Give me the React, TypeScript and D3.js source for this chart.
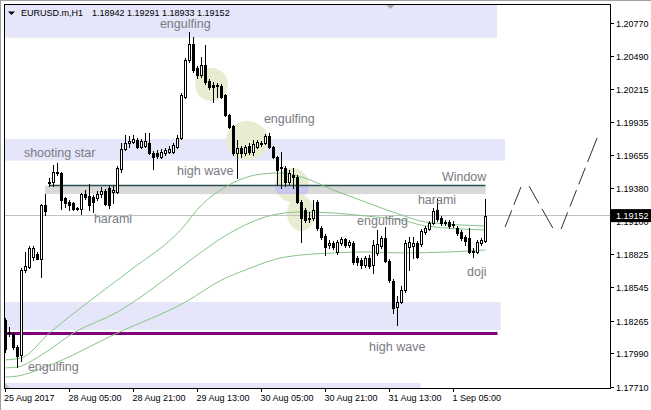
import React from "react";
import * as d3 from "d3";

// EURUSD.m H1, bars from 25 Aug 13:00 to 1 Sep 13:00
const opens = [
  1.18274, 1.18165, 1.18156, 1.18047, 1.1798, 1.18695, 1.1872, 1.18804, 1.18829, 1.18787,
  1.19241, 1.19427, 1.19435, 1.19511, 1.19511, 1.193, 1.19266, 1.19258, 1.19216, 1.19207,
  1.19333, 1.19317, 1.19308, 1.193, 1.19333, 1.19359, 1.19385, 1.1935, 1.1935, 1.19544,
  1.19712, 1.19763, 1.19771, 1.19788, 1.19729, 1.19738, 1.19763, 1.19679, 1.19679, 1.19645,
  1.19679, 1.19687, 1.19687, 1.19729, 1.19805, 1.2015, 1.20461, 1.20595, 1.20394, 1.20335,
  1.20419, 1.20285, 1.20251, 1.20243, 1.20243, 1.20167, 1.19998, 1.19906, 1.19679, 1.19721,
  1.19679, 1.19738, 1.19687, 1.19729, 1.19754, 1.19763, 1.19822, 1.19729, 1.19645, 1.19553,
  1.19553, 1.19435, 1.19494, 1.19477, 1.19266, 1.19199, 1.19123, 1.19132, 1.19266, 1.19048,
  1.18981, 1.18905, 1.18922, 1.18846, 1.18922, 1.18955, 1.18905, 1.18922, 1.18796, 1.18779,
  1.18737, 1.18796, 1.18737, 1.18838, 1.18897, 1.18964, 1.18771, 1.18602, 1.18383, 1.18425,
  1.18526, 1.18888, 1.18897, 1.18922, 1.18913, 1.19014, 1.19039, 1.1909, 1.19199, 1.19132,
  1.1909, 1.19098, 1.19073, 1.19048, 1.19014, 1.18972, 1.18964, 1.18846, 1.18846, 1.18922,
  1.18942,
];
const highs = [
  1.18291, 1.18215, 1.18173, 1.18064, 1.18712, 1.18846, 1.18897, 1.18897, 1.18846, 1.19249,
  1.19333, 1.19469, 1.19578, 1.19595, 1.19519, 1.19308, 1.19283, 1.19266, 1.19224, 1.19342,
  1.19367, 1.19418, 1.19325, 1.19359, 1.19393, 1.19376, 1.19402, 1.19402, 1.1957, 1.19763,
  1.1983, 1.19822, 1.1983, 1.19805, 1.19796, 1.19847, 1.19847, 1.19696, 1.19704, 1.19712,
  1.19721, 1.19738, 1.19763, 1.1983, 1.20184, 1.20478, 1.20696, 1.20654, 1.20411, 1.20486,
  1.20587, 1.20301, 1.20276, 1.20268, 1.20259, 1.20175, 1.20006, 1.19914, 1.19788, 1.19738,
  1.19746, 1.19763, 1.19788, 1.19788, 1.1978, 1.19838, 1.19847, 1.19738, 1.19654, 1.19687,
  1.1957, 1.19536, 1.19553, 1.19494, 1.19283, 1.19216, 1.19182, 1.19283, 1.19283, 1.19065,
  1.18997, 1.18947, 1.18939, 1.18947, 1.18972, 1.18964, 1.18947, 1.18939, 1.18813, 1.18796,
  1.18813, 1.18821, 1.18947, 1.19031, 1.18981, 1.19056, 1.18787, 1.18619, 1.18476, 1.1856,
  1.18947, 1.18972, 1.18972, 1.18939, 1.19039, 1.19065, 1.19107, 1.19216, 1.19291, 1.19149,
  1.19115, 1.19115, 1.19107, 1.19065, 1.19031, 1.18989, 1.19048, 1.1888, 1.18947, 1.18964,
  1.19291,
];
const lows = [
  1.18005, 1.1814, 1.1803, 1.17879, 1.1793, 1.18678, 1.18712, 1.18779, 1.18787, 1.18636,
  1.19157, 1.19402, 1.19402, 1.19494, 1.19207, 1.19224, 1.19199, 1.19199, 1.19199, 1.19165,
  1.19291, 1.19199, 1.19182, 1.19283, 1.19308, 1.19241, 1.19216, 1.19258, 1.19342, 1.19519,
  1.19704, 1.19729, 1.19763, 1.19721, 1.19721, 1.19729, 1.1967, 1.19544, 1.19637, 1.19637,
  1.19662, 1.19679, 1.19679, 1.19721, 1.19796, 1.20142, 1.20444, 1.2036, 1.2031, 1.20318,
  1.20259, 1.20217, 1.20108, 1.2015, 1.20142, 1.1999, 1.19889, 1.19662, 1.19469, 1.19645,
  1.19662, 1.1967, 1.19662, 1.19721, 1.19738, 1.19754, 1.19721, 1.19637, 1.1941, 1.19385,
  1.19402, 1.19418, 1.19385, 1.19258, 1.1893, 1.19098, 1.19098, 1.19115, 1.19031, 1.18955,
  1.18821, 1.1888, 1.18871, 1.18829, 1.18905, 1.18888, 1.18888, 1.18745, 1.18737, 1.18712,
  1.1872, 1.18712, 1.1867, 1.18821, 1.1888, 1.18762, 1.18593, 1.18333, 1.18232, 1.18417,
  1.1851, 1.18695, 1.18796, 1.18796, 1.18897, 1.18997, 1.19031, 1.19081, 1.19107, 1.19073,
  1.19073, 1.19048, 1.19056, 1.18989, 1.18947, 1.18905, 1.18838, 1.18804, 1.18838, 1.18905,
  1.18933,
];
const closes = [
  1.1803, 1.18173, 1.18047, 1.17972, 1.18695, 1.18729, 1.1888, 1.1888, 1.18787, 1.19241,
  1.19191, 1.19435, 1.19519, 1.19519, 1.19283, 1.19258, 1.19241, 1.19207, 1.19207, 1.19333,
  1.19308, 1.19241, 1.19266, 1.19333, 1.19359, 1.19249, 1.19241, 1.19367, 1.19553, 1.19712,
  1.19763, 1.1978, 1.19796, 1.19729, 1.1978, 1.1978, 1.19679, 1.19645, 1.19654, 1.19687,
  1.19704, 1.19712, 1.19746, 1.19805, 1.20167, 1.20461, 1.20595, 1.20377, 1.20335, 1.20419,
  1.20276, 1.20234, 1.20234, 1.20251, 1.2015, 1.19998, 1.19897, 1.19679, 1.19721, 1.19679,
  1.19729, 1.19687, 1.19754, 1.19771, 1.19763, 1.19822, 1.19729, 1.19645, 1.19536, 1.19561,
  1.19435, 1.19511, 1.19477, 1.19266, 1.19132, 1.19115, 1.19132, 1.19199, 1.19048, 1.18972,
  1.18888, 1.18922, 1.18888, 1.1893, 1.18955, 1.18905, 1.1893, 1.18762, 1.18762, 1.18737,
  1.18796, 1.18729, 1.18905, 1.18913, 1.18964, 1.18771, 1.1861, 1.18375, 1.18425, 1.18526,
  1.18922, 1.1893, 1.18922, 1.18804, 1.19023, 1.19048, 1.1909, 1.19191, 1.19123, 1.1909,
  1.19098, 1.19065, 1.19081, 1.19006, 1.18964, 1.18939, 1.18846, 1.18855, 1.1893, 1.18947,
  1.19152,
];

const priceTicks = [1.2077, 1.2049, 1.20215, 1.19935, 1.19655, 1.1938, 1.191, 1.18825, 1.18545, 1.18265, 1.1799, 1.1771];
const timeTickBars = [0, 16, 32, 48, 64, 80, 96, 112];
const timeTickLabels = ["25 Aug 2017", "28 Aug 05:00", "28 Aug 21:00", "29 Aug 13:00", "30 Aug 05:00", "30 Aug 21:00", "31 Aug 13:00", "1 Sep 05:00"];

// moving averages at a few bars
const maFastBars = [0, 4, 11, 24, 31, 44, 49, 55, 64, 69, 74, 82, 90, 99, 105, 120];
const maFastValues = [1.17938, 1.17955, 1.18165, 1.18509, 1.18687, 1.19039, 1.19241, 1.19393, 1.19502, 1.19511, 1.19477, 1.19367, 1.19266, 1.19157, 1.19098, 1.19065];
const maMidBars = [0, 3, 9, 17, 28, 43, 49, 57, 68, 74, 82, 90, 99, 105, 120];
const maMidValues = [1.17871, 1.17879, 1.1798, 1.18165, 1.18341, 1.18695, 1.18846, 1.19023, 1.19165, 1.19182, 1.19174, 1.19149, 1.19115, 1.19065, 1.19031];
const maSlowBars = [0, 3, 10, 28, 45, 54, 60, 70, 82, 90, 99, 111, 120];
const maSlowValues = [1.17794, 1.17802, 1.17879, 1.18165, 1.18425, 1.1861, 1.18695, 1.18804, 1.18838, 1.18846, 1.18838, 1.18846, 1.18863];

// support / resistance zones
const zoneFromBars = [-3, -3, -3, -3];
const zoneToBars = [122.9, 124.9, 123.8, 103.8];
const zoneHighs = [1.2094, 1.19796, 1.18425, 1.17744];
const zoneLows = [1.20649, 1.19614, 1.1819, 1.176];

const windowFrom = 9.9;
const windowTo = 120;
const windowHigh = 1.19402;
const windowLow = 1.19333;
const windowLineFrom = 10.9;

const supportLevel = 1.1816;
const supportTo = 123;

const circleBars = [51.5, 60.4, 71.6, 73.9];
const circlePrices = [1.20255, 1.19784, 1.1941, 1.1917];
const circleBarRadii = [4.1, 5.25, 4.25, 3.5];
const circlePriceRadii = [0.00139, 0.00164, 0.00143, 0.00147];

const patternNames = ["engulfing", "engulfing", "shooting star", "high wave", "harami", "Window", "harami", "engulfing", "doji", "high wave", "engulfing"];
const patternBars = [38.6, 64.6, 4.6, 42.9, 22.1, 109.1, 103.1, 87.9, 115.4, 90.9, 5.6];
const patternPrices = [1.2073, 1.19931, 1.19641, 1.19494, 1.19094, 1.19443, 1.1925, 1.19073, 1.18644, 1.18017, 1.17841];

const zigBars = [124.9, 129.75, 138.1, 147.9];
const zigPrices = [1.19056, 1.19468, 1.18972, 1.19805];

const W = 651;
const H = 410;
const left = 4.5, top = 4.5, right = 610.5, bottom = 388.5;
const axisFont = "'Liberation Sans', Arial, sans-serif";

export default function App() {
  const x = d3.scaleLinear().domain([0, 120]).range([5.5, 485.5]);
  const y = d3.scaleLinear().domain([1.1771, 1.2077]).range([387, 23.3]);
  const crisp = (v: number) => Math.floor(v) + 0.5;

  const maLine = (bars: number[], vals: number[]) =>
    d3.line<number>().x((b) => x(b)).y((_, i) => y(vals[i])).curve(d3.curveMonotoneX)(bars) || "";

  const zig = d3.line<number>().x((b) => x(b)).y((_, i) => y(zigPrices[i]))(zigBars) || "";

  const last = opens.length - 1;
  const ohlc = [opens[last], highs[last], lows[last], closes[last]].map((v) => v.toFixed(5)).join(" ");
  const lastY = y(closes[last]);

  const wx = x(windowFrom), ww = x(windowTo) - x(windowFrom);
  const wy = y(windowHigh), wh = y(windowLow) - y(windowHigh);

  return (
    <svg width={W} height={H} style={{ position: "absolute", left: 0, top: 0, background: "#fff" }}>
      <defs>
        <clipPath id="plot">
          <rect x={5} y={5} width={605} height={383} />
        </clipPath>
        <clipPath id="win">
          <rect x={wx} y={wy} width={ww} height={wh} />
        </clipPath>
      </defs>
      <rect x={0} y={0} width={W} height={H} fill="#fff" />
      <line x1={0} x2={W} y1={0.5} y2={0.5} stroke="#a0a0a0" />
      <line x1={0.5} x2={0.5} y1={0} y2={H} stroke="#a0a0a0" />

      <g clipPath="url(#plot)">
        {zoneFromBars.map((b, i) => (
          <rect
            key={i}
            x={x(b)}
            y={y(zoneHighs[i])}
            width={x(zoneToBars[i]) - x(b)}
            height={y(zoneLows[i]) - y(zoneHighs[i])}
            fill="#e6e6fa"
          />
        ))}
        {circleBars.map((b, i) => (
          <ellipse
            key={i}
            cx={x(b)}
            cy={y(circlePrices[i])}
            rx={x(circleBarRadii[i]) - x(0)}
            ry={y(0) - y(circlePriceRadii[i])}
            fill="#e8ecd0"
          />
        ))}
        <rect x={wx} y={wy} width={ww} height={wh} fill="#d9d9d9" />
        <g clipPath="url(#win)">
          <ellipse
            cx={x(circleBars[2])}
            cy={y(circlePrices[2])}
            rx={x(circleBarRadii[2]) - x(0)}
            ry={y(0) - y(circlePriceRadii[2])}
            fill="#c8c8ee"
          />
        </g>
        <line x1={x(windowLineFrom)} x2={x(windowTo)} y1={crisp(wy)} y2={crisp(wy)} stroke="#2f4f4f" strokeWidth={1.3} />
        <line x1={left} x2={x(supportTo)} y1={y(supportLevel)} y2={y(supportLevel)} stroke="#800080" strokeWidth={3} />
        <line x1={left} x2={right} y1={crisp(lastY)} y2={crisp(lastY)} stroke="#c0c0c0" />

        <path d={maLine(maSlowBars, maSlowValues)} fill="none" stroke="#86c486" strokeWidth={1} />
        <path d={maLine(maMidBars, maMidValues)} fill="none" stroke="#86c486" strokeWidth={1} />
        <path d={maLine(maFastBars, maFastValues)} fill="none" stroke="#86c486" strokeWidth={1} />

        {opens.map((o, i) => {
          const c = closes[i];
          const cx = x(i);
          const yh = Math.round(y(highs[i]));
          const yl = Math.round(y(lows[i]));
          const yt = Math.round(y(Math.max(o, c)));
          const yb = Math.round(y(Math.min(o, c)));
          const bull = c > o;
          return (
            <g key={i}>
              <rect x={cx - 0.5} y={yh} width={1} height={yl - yh + 1} fill="#000" />
              {bull && yb - yt >= 2 ? (
                <rect x={cx - 1} y={yt + 0.5} width={2} height={yb - yt} fill="#fff" stroke="#000" strokeWidth={1} />
              ) : (
                <rect x={cx - 1.5} y={yt} width={3} height={Math.max(1, yb - yt + 1)} fill="#000" />
              )}
            </g>
          );
        })}

        <path
          d={zig}
          fill="none"
          stroke="#303030"
          strokeWidth={1}
          strokeDasharray="18 6 19 19 20 6 22 19 18 6 18 6 18 6 30"
        />

        {patternNames.map((t, i) => (
          <text
            key={i}
            x={x(patternBars[i])}
            y={y(patternPrices[i])}
            fontFamily={axisFont}
            fontSize={12.5}
            fill="#7a7a82"
          >
            {t}
          </text>
        ))}

        <polygon points={`${x(96.25) - 4},5 ${x(96.25) + 4},5 ${x(96.25)},9`} fill="#a8a8a8" />
        <polygon points="5,383 5,388 10,388" fill="#c0c0c0" />
      </g>

      {/* frame */}
      <rect x={left} y={top} width={right - left} height={bottom - top} fill="none" stroke="#000" />

      {/* title */}
      <polygon points="8,11.5 15,11.5 11.5,15" fill="#000" />
      <text x={21} y={16} fontFamily={axisFont} fontSize={9} fill="#000">EURUSD.m,H1</text>
      <text x={92} y={16} fontFamily={axisFont} fontSize={9} fill="#000">{ohlc}</text>

      {/* price axis */}
      {priceTicks.map((p) => {
        const ty = crisp(y(p));
        return (
          <g key={p}>
            <line x1={right} x2={614} y1={ty} y2={ty} stroke="#000" />
            <text x={616} y={ty + 3.5} fontFamily={axisFont} fontSize={9} fill="#000">
              {p.toFixed(5)}
            </text>
          </g>
        );
      })}
      <rect x={611} y={lastY - 6.5} width={40} height={13} fill="#000" />
      <text x={616} y={lastY + 3.5} fontFamily={axisFont} fontSize={9} fill="#fff">
        {closes[last].toFixed(5)}
      </text>

      {/* time axis */}
      {timeTickBars.map((b, i) => {
        const tx = crisp(x(b));
        return (
          <g key={b}>
            <line x1={tx} x2={tx} y1={bottom} y2={392} stroke="#000" />
            <text x={i === 0 ? 4 : tx - 1} y={401} fontFamily={axisFont} fontSize={9} fill="#000">
              {timeTickLabels[i]}
            </text>
          </g>
        );
      })}
    </svg>
  );
}
